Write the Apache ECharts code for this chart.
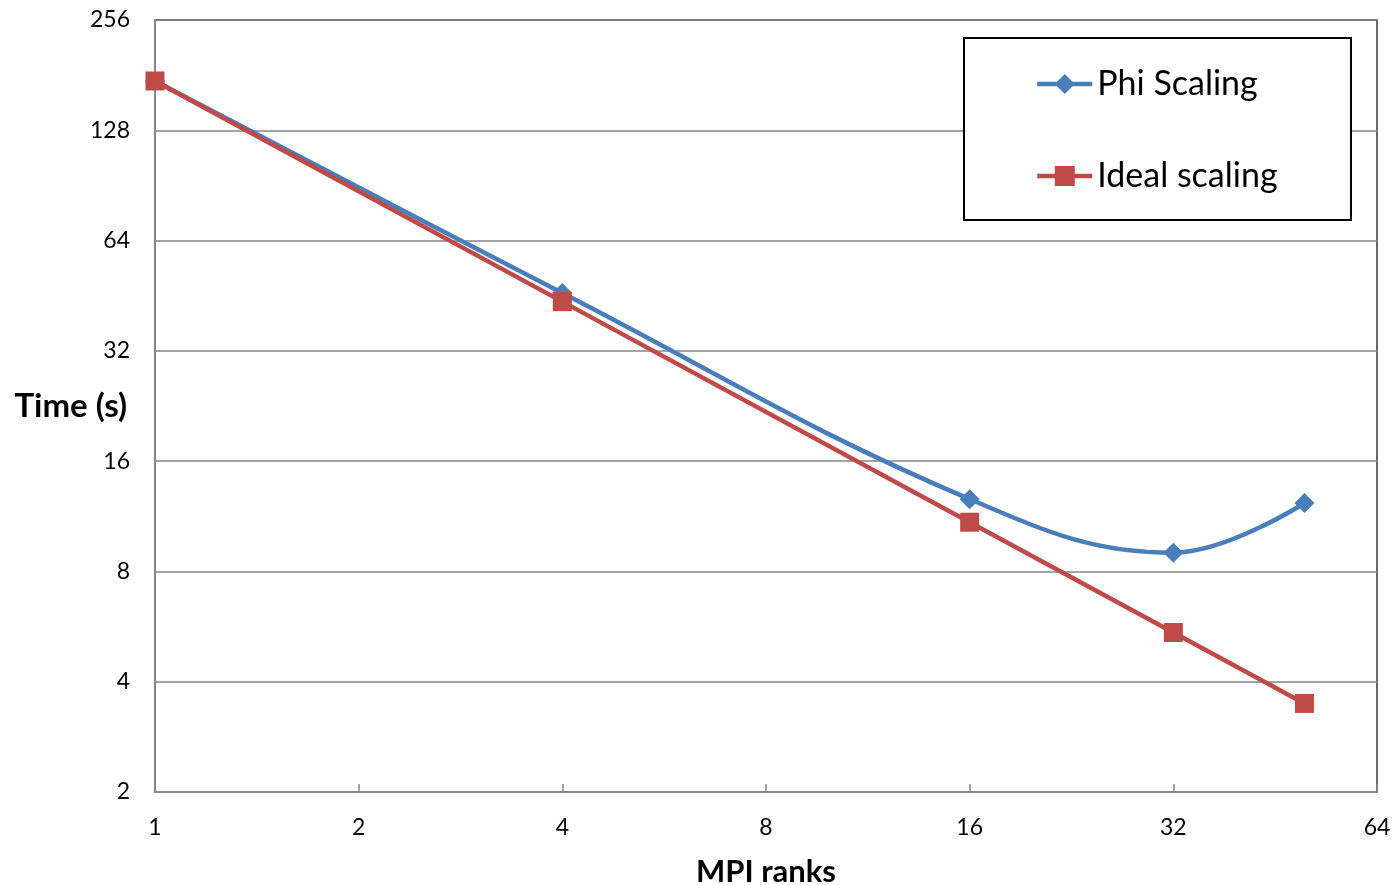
<!DOCTYPE html>
<html>
<head>
<meta charset="utf-8">
<script src="https://cdn.jsdelivr.net/npm/echarts@6/dist/echarts.min.js"></script>
<style>
  html, body { margin: 0; padding: 0; background: #fff; }
  #chart { width: 1395px; height: 885px; }
</style>
</head>
<body>
<div id="chart"></div>
<script>
const ranks = [1, 4, 16, 32, 50];
const phiTimes = [174.5, 46.0, 12.6, 9.0, 12.3];
const idealTimes = [174.5, 43.6, 10.9, 5.45, 3.49];

const font = 'Lato';

const pairs = (xs, ys) => xs.map((x, i) => [x, ys[i]]);

const chart = echarts.init(document.getElementById('chart'));
chart.setOption({
  animation: false,
  backgroundColor: '#fff',
  textStyle: { fontFamily: font },
  grid: {
    left: 155,
    right: 18,
    top: 20,
    bottom: 93,
    containLabel: false,
    outerBoundsMode: 'none',
    show: true,
    borderColor: '#3a3a3a',
    borderWidth: 1.5
  },
  legend: {
    orient: 'vertical',
    left: 1035,
    top: 67,
    padding: 0,
    itemWidth: 55,
    itemHeight: 25,
    itemGap: 58,
    lineStyle: { width: 4.5 },
    textStyle: { fontSize: 34, color: '#000', fontFamily: font },
    data: ['Phi Scaling', 'Ideal scaling']
  },
  graphic: [{
    type: 'rect',
    shape: { x: 964, y: 38, width: 387, height: 182 },
    style: { fill: '#fff', stroke: '#000', lineWidth: 2 },
    z: 1
  }],
  xAxis: {
    type: 'log',
    logBase: 2,
    min: 1,
    max: 64,
    name: 'MPI ranks',
    nameLocation: 'middle',
    nameGap: 64,
    nameMoveOverlap: false,
    nameTextStyle: { fontSize: 31, fontWeight: 'bold', color: '#000', fontFamily: font },
    axisLine: { lineStyle: { color: '#868686', width: 2 } },
    axisTick: { inside: true, length: 8, lineStyle: { color: '#868686', width: 1.5 } },
    axisLabel: { fontSize: 23, color: '#000', margin: 24, fontFamily: font },
    splitLine: { show: false },
    minorTick: { show: false }
  },
  yAxis: {
    type: 'log',
    logBase: 2,
    min: 2,
    max: 256,
    name: 'Time (s)',
    nameLocation: 'middle',
    nameRotate: 0,
    nameGap: 28,
    nameMoveOverlap: false,
    nameTextStyle: { fontSize: 33, fontWeight: 'bold', color: '#000', fontFamily: font, padding: [10, 0, 0, 0] },
    axisLine: { show: true, lineStyle: { color: '#868686', width: 2 } },
    axisTick: { show: false },
    axisLabel: { fontSize: 23, color: '#000', margin: 25, fontFamily: font },
    splitLine: { show: true, lineStyle: { color: '#868686', width: 1.5 } }
  },
  series: [
    {
      name: 'Phi Scaling',
      type: 'line',
      data: pairs(ranks, phiTimes),
      smooth: 0.4,
      symbol: 'diamond',
      symbolSize: 20,
      color: '#4A7EBB',
      lineStyle: { width: 4.5, color: '#4A7EBB' },
      itemStyle: { color: '#4A7EBB' },
      z: 2
    },
    {
      name: 'Ideal scaling',
      type: 'line',
      data: pairs(ranks, idealTimes),
      symbol: 'rect',
      symbolSize: 19,
      color: '#BE4B48',
      lineStyle: { width: 4.5, color: '#BE4B48' },
      itemStyle: { color: '#BE4B48' },
      z: 3
    }
  ]
});
</script>
</body>
</html>
